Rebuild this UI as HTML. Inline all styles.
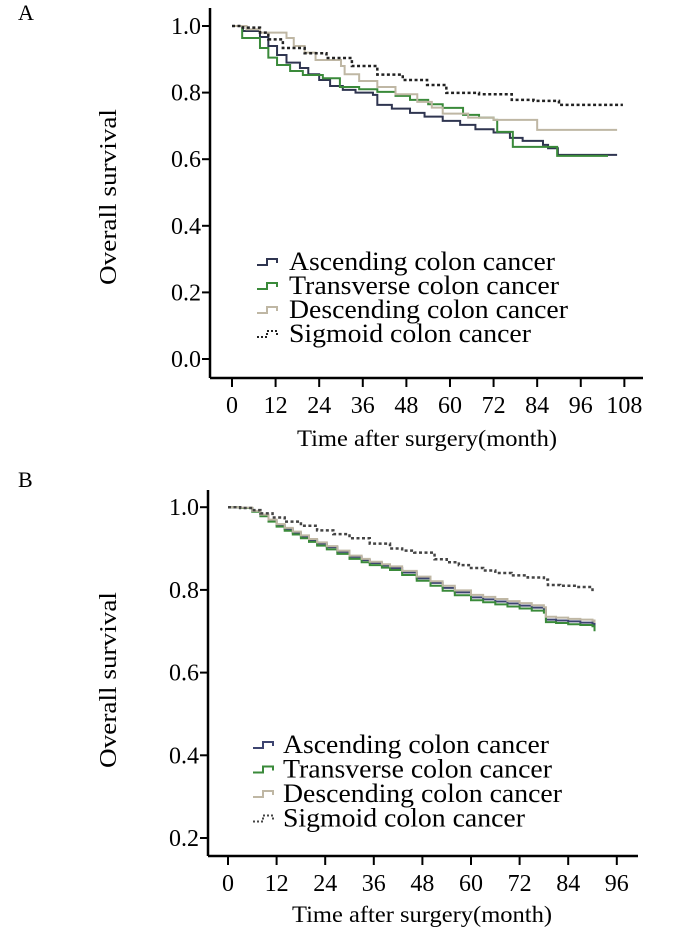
<!DOCTYPE html>
<html><head><meta charset="utf-8">
<style>
html,body{margin:0;padding:0;background:#fff;}
svg{display:block;}
svg text{font-family:"Liberation Serif","DejaVu Serif",serif;}
</style></head>
<body>
<svg id="fig" width="700" height="942" viewBox="0 0 700 942" font-family="Liberation Serif, serif">
<text x="18" y="20" font-size="22">A</text>
<text x="18" y="487" font-size="22">B</text>
<g id="pA"></g>
<g id="pB"></g>
</svg>
<script>
// Panel A data (month, survival)
const aTicksX = [0,12,24,36,48,60,72,84,96,108];
const aTicksY = [0.0,0.2,0.4,0.6,0.8,1.0];
const aAscT = [0,3,7.7,10,12.4,15,18.7,21,24,27,30.5,34,38.8,40,44,49,53,58,62.8,67,72,76.5,80,85.6,87,89.7,106];
const aAscS = [1,0.985,0.967,0.94,0.913,0.89,0.874,0.855,0.838,0.82,0.808,0.8,0.793,0.763,0.752,0.739,0.728,0.715,0.703,0.69,0.68,0.664,0.655,0.643,0.633,0.613,0.613];
const aTraT = [0,2.8,7.7,10,12.4,16,19.5,25,29.7,35,40,45,49,54,58,63.6,68,72,73,77.3,85.6,89.5,103.5];
const aTraS = [1,0.964,0.934,0.905,0.883,0.865,0.853,0.843,0.817,0.81,0.802,0.79,0.778,0.765,0.754,0.733,0.725,0.718,0.682,0.637,0.637,0.61,0.61];
const aDesT = [0,4,7.7,15,17,20,23,30,31,35,40,45,51,55,58,65,72,84,106];
const aDesS = [1,0.99,0.98,0.964,0.94,0.92,0.898,0.88,0.855,0.835,0.817,0.795,0.772,0.755,0.737,0.725,0.718,0.688,0.688];
const aSigT = [0,3,7.7,10,14,20,26,33,40,47,53.7,59,68,77,83,90,107.6];
const aSigS = [1,0.995,0.98,0.96,0.934,0.918,0.904,0.88,0.854,0.838,0.823,0.799,0.795,0.778,0.775,0.763,0.763];
// Panel B data
const bTicksX = [0,12,24,36,48,60,72,84,96];
const bTicksY = [0.2,0.4,0.6,0.8,1.0];
const bAscT = [0,3,6,8,10,12,14,16,18,20,22,24.4,27,30,33,35,38,40,43,46.6,50,53,56,60,63,66,69,72,75,78,78.5,81,84,87,90,90.5];
const bAscS = [1,0.998,0.99,0.98,0.968,0.957,0.947,0.938,0.929,0.92,0.912,0.903,0.892,0.88,0.872,0.865,0.859,0.853,0.842,0.828,0.817,0.805,0.794,0.782,0.777,0.772,0.767,0.762,0.757,0.752,0.728,0.726,0.724,0.721,0.718,0.71];
const bTraT = bAscT;
const bTraS = [1,0.998,0.989,0.978,0.965,0.953,0.943,0.934,0.925,0.916,0.907,0.898,0.887,0.875,0.867,0.86,0.854,0.848,0.836,0.822,0.81,0.798,0.787,0.775,0.77,0.765,0.76,0.755,0.75,0.745,0.722,0.72,0.717,0.715,0.712,0.70];
const bDesT = bAscT;
const bDesS = [1,0.999,0.991,0.982,0.97,0.959,0.95,0.941,0.932,0.923,0.915,0.906,0.895,0.883,0.875,0.868,0.862,0.857,0.846,0.832,0.821,0.81,0.799,0.788,0.783,0.778,0.773,0.768,0.763,0.758,0.735,0.733,0.73,0.728,0.726,0.72];
const bSigT = [0,3,6,8,11,14,18,22,26,30,35,40,43,46,51,54,57,60,63,66,70,74,78,79,82,86,90];
const bSigS = [1,0.998,0.993,0.985,0.975,0.965,0.955,0.944,0.935,0.925,0.912,0.90,0.895,0.89,0.874,0.867,0.86,0.853,0.847,0.841,0.835,0.83,0.825,0.812,0.81,0.807,0.797];

const NS='http://www.w3.org/2000/svg';
function mk(tag, attrs, parent){const e=document.createElementNS(NS,tag);for(const k in attrs)e.setAttribute(k,attrs[k]);parent.appendChild(e);return e;}
const FF='Liberation Serif, DejaVu Serif, serif';
function panel(g, cfg){
  const sx = m => cfg.x0 + m*cfg.pxPerMonth;
  const sy = v => cfg.yBase - (v-cfg.vmin)*cfg.pxPerUnit;
  const ya = mk('line',{x1:cfg.axX,y1:cfg.axTop,x2:cfg.axX,y2:cfg.axY,stroke:'#000','stroke-width':2.5},g);
  
  
  const xa = mk('line',{x1:cfg.axX,y1:cfg.axY,x2:cfg.axRight,y2:cfg.axY,stroke:'#000','stroke-width':2.5},g);
  
  
  cfg.ticksY.forEach(v=>{
    const y=sy(v);
    const t=mk('line',{x1:cfg.axX-8,y1:y,x2:cfg.axX,y2:y,stroke:'#000','stroke-width':2},g);
    
    
    const l=mk('text',{x:cfg.axX-9,y:y+8,'font-size':24,'text-anchor':'end','font-family':FF},g);
    l.textContent=v.toFixed(1);
    
    
  });
  cfg.ticksX.forEach(m=>{
    const x=sx(m);
    const t=mk('line',{x1:x,y1:cfg.axY,x2:x,y2:cfg.axY+9,stroke:'#000','stroke-width':2},g);
    
    
    const l=mk('text',{x:x,y:cfg.axY+35,'font-size':24,'text-anchor':'middle','font-family':FF},g);
    l.textContent=String(m);
    
    
  });
  const xt=mk('text',{x:cfg.xTitleX,y:cfg.xTitleY,'font-size':23,'text-anchor':'middle','font-family':FF,textLength:260,lengthAdjust:'spacingAndGlyphs'},g);
  xt.textContent='Time after surgery(month)';
  
  
  const yt=mk('text',{x:0,y:0,'font-size':24,'text-anchor':'middle','font-family':FF,textLength:176,lengthAdjust:'spacingAndGlyphs',transform:`translate(${cfg.yTitleX},${cfg.yTitleY}) rotate(-90)`},g);
  yt.textContent='Overall survival';
  
  
  cfg.series.forEach((s,i)=>{
    let d='';
    for(let k=0;k<s.t.length;k++){
      const x=sx(s.t[k]), y=sy(s.s[k]);
      if(k===0) d+=`M${x},${y}`; else d+=`H${x}V${y}`;
    }
    const p=mk('path',{d:d,fill:'none',stroke:s.color,'stroke-width':s.dash?2.5:2,'stroke-dasharray':s.dash?'3,2.5':'none'},g);
    
    
    const ly=cfg.legY+i*cfg.legDy;
    const sym=mk('path',{d:`M${cfg.legX},${ly+3}H${cfg.legX+10}V${ly-3}H${cfg.legX+20}V${ly+1}`,fill:'none',stroke:s.color,'stroke-width':2,'stroke-dasharray':s.dash?'2,2':'none'},g);
    
    
    const lt=mk('text',{x:cfg.legX+cfg.legGap,y:ly+8,'font-size':26,'font-family':FF,textLength:cfg.legW[i],lengthAdjust:'spacingAndGlyphs'},g);
    lt.textContent=s.label;
    
    
  });
}
const colors={asc:'#2f3550',tra:'#3a8a3a',des:'#bfb7a4',sig:'#222'};
panel(document.getElementById('pA'),{
  x0:232,pxPerMonth:3.633,yBase:359,vmin:0,pxPerUnit:333,
  axX:210,axTop:8,axY:378,axRight:643,ticksX:aTicksX,ticksY:aTicksY,
  xTitleX:427,xTitleY:446,yTitleX:116,yTitleY:197,legX:257,legY:262,legDy:24,legGap:32,
  legW:[266,270,279,242],
  series:[
    {name:'ascending',label:'Ascending colon cancer',t:aAscT,s:aAscS,color:colors.asc},
    {name:'transverse',label:'Transverse colon cancer',t:aTraT,s:aTraS,color:colors.tra},
    {name:'descending',label:'Descending colon cancer',t:aDesT,s:aDesS,color:colors.des},
    {name:'sigmoid',label:'Sigmoid colon cancer',t:aSigT,s:aSigS,color:colors.sig,dash:true}
  ]
});
panel(document.getElementById('pB'),{
  x0:228,pxPerMonth:4.05,yBase:838,vmin:0.2,pxPerUnit:413.5,
  axX:208,axTop:490,axY:856,axRight:638,ticksX:bTicksX,ticksY:bTicksY,
  xTitleX:422,xTitleY:922,yTitleX:116,yTitleY:680,legX:253,legY:745,legDy:24.5,legGap:30,
  legW:[266,269,279,242],
  series:[
    {name:'ascending',label:'Ascending colon cancer',t:bAscT,s:bAscS,color:'#3d4470'},
    {name:'transverse',label:'Transverse colon cancer',t:bTraT,s:bTraS,color:colors.tra},
    {name:'descending',label:'Descending colon cancer',t:bDesT,s:bDesS,color:colors.des},
    {name:'sigmoid',label:'Sigmoid colon cancer',t:bSigT,s:bSigS,color:'#444',dash:true}
  ]
});
</script>
</body></html>
